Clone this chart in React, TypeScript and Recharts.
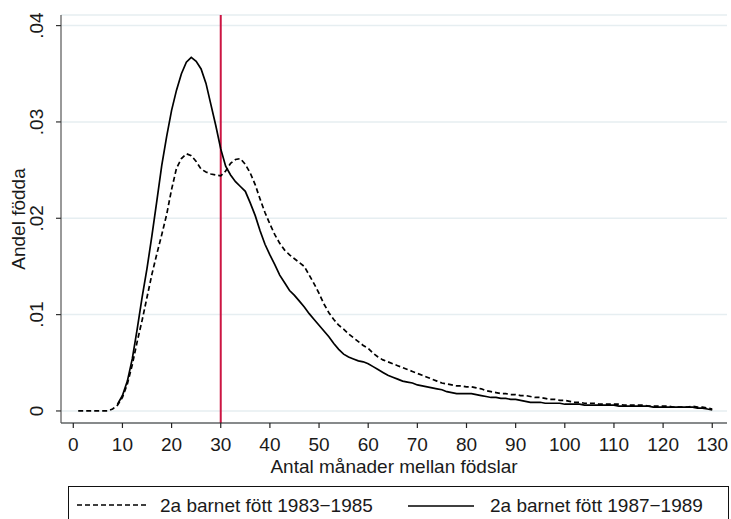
import { CartesianGrid, Legend, Line, LineChart, ReferenceLine, XAxis, YAxis, Label } from "recharts";

const MONTHS: number[] = Array.from({ length: 130 }, (_, i) => i + 1);

// 2a barnet fött 1983−1985 (dashed)
const SERIES_8385: number[] = [
  0, 0, 0, 0, 0, 0, 0, 0.0002, 0.0006, 0.0014,
  0.0028, 0.0048, 0.0072, 0.0094, 0.0118, 0.0142, 0.0163, 0.0183, 0.0204, 0.023,
  0.0252, 0.0262, 0.0267, 0.0265, 0.0259, 0.0251, 0.0248, 0.0246, 0.0245, 0.0244,
  0.0249, 0.0257, 0.0261, 0.0262, 0.0256, 0.0247, 0.0235, 0.022, 0.0206, 0.0194,
  0.0183, 0.0174, 0.0167, 0.0162, 0.0158, 0.0154, 0.015, 0.0141, 0.0132, 0.0122,
  0.0111, 0.0102, 0.0095, 0.0089, 0.0085, 0.008, 0.0076, 0.0072, 0.0068, 0.0065,
  0.006, 0.0056, 0.0053, 0.0051, 0.0049, 0.0047, 0.0045, 0.0043, 0.0041, 0.0039,
  0.0037, 0.0035, 0.0033, 0.0031, 0.0029, 0.0028, 0.0027, 0.0026, 0.0026, 0.0025,
  0.0025, 0.0024, 0.0023, 0.0021, 0.002, 0.0019, 0.0018, 0.0018, 0.0017, 0.0017,
  0.0016, 0.0016, 0.0015, 0.0014, 0.0014, 0.0013, 0.0012, 0.0012, 0.0011, 0.0011,
  0.001, 0.0009, 0.0009, 0.0008, 0.0008, 0.0008, 0.0007, 0.0007, 0.0007, 0.0007,
  0.0007, 0.0006, 0.0006, 0.0006, 0.0006, 0.0006, 0.0005, 0.0005, 0.0005, 0.0005,
  0.0005, 0.0004, 0.0004, 0.0004, 0.0004, 0.0005, 0.0004, 0.0004, 0.0003, 0.0002,
];

// 2a barnet fött 1987−1989 (solid)
const SERIES_8789: (number | null)[] = [
  null, null, null, null, null, null, null, null, 0.0007, 0.0016,
  0.0031, 0.0054, 0.0085, 0.0118, 0.0148, 0.0182, 0.0218, 0.0255, 0.0285, 0.0312,
  0.0333, 0.035, 0.0362, 0.0367, 0.0363, 0.0355, 0.034, 0.0318, 0.0296, 0.0272,
  0.0254, 0.0245, 0.0238, 0.0233, 0.0228, 0.0216, 0.0203, 0.0187, 0.0173, 0.0162,
  0.0152, 0.0141, 0.0133, 0.0125, 0.012, 0.0114, 0.0108, 0.0101, 0.0095, 0.0089,
  0.0083, 0.0077, 0.007, 0.0064, 0.0059, 0.0056, 0.0054, 0.0052, 0.0051, 0.0049,
  0.0046, 0.0043, 0.004, 0.0037, 0.0035, 0.0033, 0.0031, 0.003, 0.0029, 0.0027,
  0.0026, 0.0025, 0.0024, 0.0023, 0.0022, 0.002, 0.0019, 0.0018, 0.0018, 0.0018,
  0.0018, 0.0017, 0.0016, 0.0015, 0.0014, 0.0014, 0.0013, 0.0013, 0.0012, 0.0012,
  0.0011, 0.001, 0.0009, 0.0009, 0.0009, 0.0008, 0.0008, 0.0008, 0.0008, 0.0007,
  0.0007, 0.0007, 0.0007, 0.0006, 0.0006, 0.0006, 0.0006, 0.0006, 0.0006, 0.0006,
  0.0005, 0.0005, 0.0005, 0.0005, 0.0005, 0.0005, 0.0005, 0.0004, 0.0004, 0.0004,
  0.0004, 0.0004, 0.0004, 0.0004, 0.0004, 0.0004, 0.0003, 0.0003, 0.0002, 0.0001,
];

const X_TICKS: number[] = [0, 10, 20, 30, 40, 50, 60, 70, 80, 90, 100, 110, 120, 130];
const Y_TICKS: number[] = [0, 0.01, 0.02, 0.03, 0.04];
const Y_TICK_LABELS: string[] = ["0", ".01", ".02", ".03", ".04"];
const CUTOFF_MONTH = 30;

const SERIES_NAMES = ["2a barnet fött 1983−1985", "2a barnet fött 1987−1989"];

const data = MONTHS.map((m, i) => ({ m, a: SERIES_8385[i], b: SERIES_8789[i] }));

const FONT = "Arial, 'Liberation Sans', sans-serif";
const FONT_SIZE = 19;
const TEXT_COLOR = "#1a1a1a";

const XTick = (props: any) => {
  const { x, y, payload } = props;
  return (
    <text x={x} y={y + 20.5} textAnchor="middle" fontFamily={FONT} fontSize={FONT_SIZE} fill={TEXT_COLOR}>
      {payload.value}
    </text>
  );
};

const YTick = (props: any) => {
  const { x, y, payload } = props;
  const idx = Y_TICKS.indexOf(payload.value);
  const label = idx >= 0 ? Y_TICK_LABELS[idx] : String(payload.value);
  const tx = x - 11;
  return (
    <text
      x={tx}
      y={y}
      transform={`rotate(-90 ${tx} ${y})`}
      textAnchor="middle"
      fontFamily={FONT}
      fontSize={FONT_SIZE}
      fill={TEXT_COLOR}
    >
      {label}
    </text>
  );
};

const XTitle = (props: any) => {
  const { viewBox } = props;
  const cx = viewBox.x + viewBox.width / 2;
  return (
    <text x={cx} y={viewBox.y + 49.5} textAnchor="middle" fontFamily={FONT} fontSize={FONT_SIZE} fill={TEXT_COLOR}>
      Antal månader mellan födslar
    </text>
  );
};

const YTitle = (props: any) => {
  const { viewBox } = props;
  const cy = viewBox.y + viewBox.height / 2;
  const tx = 25;
  return (
    <text
      x={tx}
      y={cy}
      transform={`rotate(-90 ${tx} ${cy})`}
      textAnchor="middle"
      fontFamily={FONT}
      fontSize={FONT_SIZE}
      fill={TEXT_COLOR}
    >
      Andel födda
    </text>
  );
};

const LegendBox = () => (
  <div
    style={{
      width: 661,
      height: 44,
      border: "1px solid #111",
      boxSizing: "border-box",
      background: "#fff",
    }}
  >
    <svg width={659} height={42} style={{ display: "block" }}>
      <line x1={8} y1={18} x2={79} y2={18} stroke="#000" strokeWidth={1.7} strokeDasharray="5 3" />
      <text x={91} y={25} fontFamily={FONT} fontSize={FONT_SIZE} fill={TEXT_COLOR}>
        {SERIES_NAMES[0]}
      </text>
      <line x1={339} y1={19} x2={405} y2={19} stroke="#000" strokeWidth={1.7} />
      <text x={421} y={25} fontFamily={FONT} fontSize={FONT_SIZE} fill={TEXT_COLOR}>
        {SERIES_NAMES[1]}
      </text>
    </svg>
  </div>
);

export default function App() {
  return (
    <div style={{ position: "absolute", top: 0, left: 0, width: 731, height: 519, background: "#fff", overflow: "hidden" }}>
      <LineChart width={731} height={519} data={data} margin={{ top: 15, right: 4, left: 0, bottom: 46 }}>
        <CartesianGrid horizontal vertical={false} stroke="#e6eef1" strokeWidth={1.5} />
        <XAxis
          dataKey="m"
          type="number"
          domain={[-2.5, 133]}
          ticks={X_TICKS}
          interval={0}
          height={50}
          tickSize={5}
          tick={<XTick />}
          axisLine={{ stroke: "#222", strokeWidth: 1.2 }}
          tickLine={{ stroke: "#222", strokeWidth: 1.2 }}
          allowDataOverflow
        >
          <Label content={<XTitle />} />
        </XAxis>
        <YAxis
          type="number"
          domain={[-0.00125, 0.0411]}
          ticks={Y_TICKS}
          interval={0}
          width={61}
          tickSize={5}
          tick={<YTick />}
          axisLine={{ stroke: "#555", strokeWidth: 1.2 }}
          tickLine={{ stroke: "#333", strokeWidth: 1.2 }}
          allowDataOverflow
        >
          <Label content={<YTitle />} />
        </YAxis>
        <ReferenceLine x={CUTOFF_MONTH} stroke="#cc1543" strokeWidth={2} />
        <Line
          type="linear"
          dataKey="a"
          name={SERIES_NAMES[0]}
          stroke="#000"
          strokeWidth={1.7}
          strokeDasharray="5 3"
          dot={false}
          activeDot={false}
          isAnimationActive={false}
        />
        <Line
          type="linear"
          dataKey="b"
          name={SERIES_NAMES[1]}
          stroke="#000"
          strokeWidth={1.7}
          dot={false}
          activeDot={false}
          isAnimationActive={false}
        />
        <Legend
          layout="horizontal"
          verticalAlign="middle"
          align="center"
          content={<LegendBox />}
          wrapperStyle={{ position: "absolute", top: 486, left: 68, width: 661, height: 44 }}
        />
      </LineChart>
    </div>
  );
}
